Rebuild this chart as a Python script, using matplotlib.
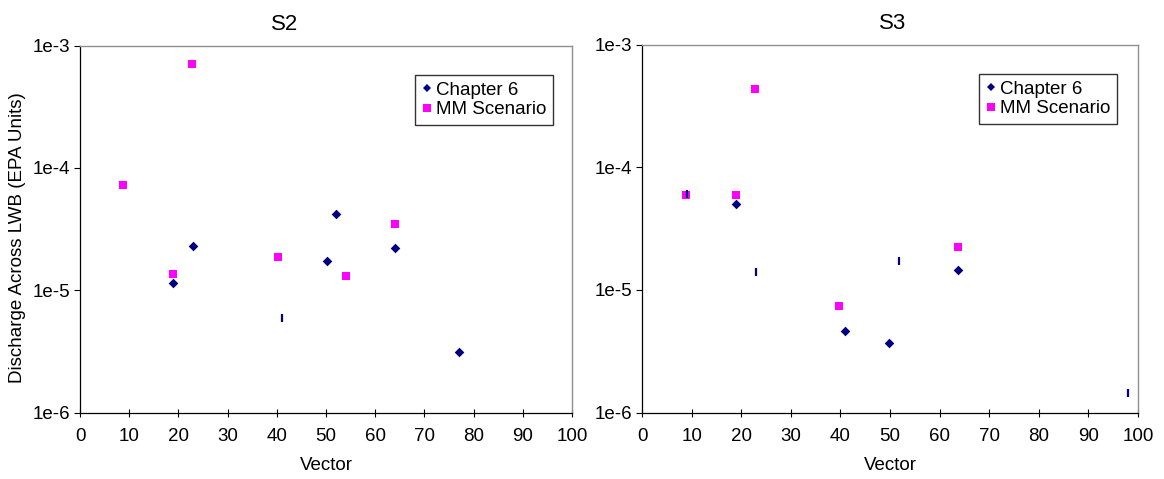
import matplotlib
matplotlib.use("Agg")
import matplotlib.pyplot as plt
from matplotlib.lines import Line2D

plt.rcParams['font.family'] = ['Liberation Sans', 'DejaVu Sans']

# ---- data ----
titles = ["S2", "S3"]

s2_ch6_x = [19.0, 23.0, 50.2, 52.0, 64.0, 77.1]
s2_ch6_y = [1.15e-5, 2.31e-5, 1.75e-5, 4.23e-5, 2.22e-5, 3.13e-6]
s2_mm_x = [8.7, 18.9, 22.8, 40.2, 54.0, 64.0]
s2_mm_y = [7.2e-5, 1.35e-5, 7.1e-4, 1.88e-5, 1.30e-5, 3.5e-5]
s2_tick_x = [41.1]
s2_tick_y = [5.97e-6]

s3_ch6_x = [18.9, 40.9, 49.8, 63.8]
s3_ch6_y = [5.03e-5, 4.63e-6, 3.70e-6, 1.45e-5]
s3_mm_x = [8.9, 18.9, 22.8, 39.7, 63.8]
s3_mm_y = [5.91e-5, 5.9e-5, 4.36e-4, 7.41e-6, 2.25e-5]
s3_tick_x = [9.0, 22.9, 51.8, 97.9]
s3_tick_y = [6.1e-5, 1.40e-5, 1.73e-5, 1.46e-6]

xticks = [0, 10, 20, 30, 40, 50, 60, 70, 80, 90, 100]
yticks = [1e-6, 1e-5, 1e-4, 1e-3]
yticklabels = ["1e-6", "1e-5", "1e-4", "1e-3"]

series_labels = ["Chapter 6", "MM Scenario"]
navy = "#000080"
magenta = "#FF00FF"

W, H = 1164, 479
fig = plt.figure(figsize=(W / 100, H / 100), dpi=100)

def box(l, r, t, b):
    return [l / W, 1 - b / H, (r - l) / W, (b - t) / H]

ax1 = fig.add_axes(box(80, 572, 45.5, 412.7))
ax2 = fig.add_axes(box(642, 1138, 44.5, 412.7))

panels = [
    (ax1, s2_ch6_x, s2_ch6_y, s2_mm_x, s2_mm_y, s2_tick_x, s2_tick_y, 0.961, (284.5 - 80) / 492),
    (ax2, s3_ch6_x, s3_ch6_y, s3_mm_x, s3_mm_y, s3_tick_x, s3_tick_y, 0.957, 0.505),
]

fs = 13.5
for i, (ax, cx, cy, mx, my, tx, ty, legx, titx) in enumerate(panels):
    ax.scatter(mx, my, marker='s', s=40, color=magenta, linewidths=0, zorder=3)
    ax.scatter(cx, cy, marker='D', s=24, color=navy, linewidths=0, zorder=4)
    ax.plot(tx, ty, linestyle='none', marker='|', markersize=6, markeredgewidth=1.6,
            color=navy, zorder=5)
    ax.set_yscale('log')
    ax.set_xlim(0, 100)
    ax.set_ylim(1e-6, 1e-3)
    ax.set_xticks(xticks)
    ax.set_xticklabels([str(v) for v in xticks], fontsize=fs)
    ax.set_yticks(yticks)
    ax.set_yticklabels(yticklabels, fontsize=fs)
    ax.yaxis.set_minor_locator(matplotlib.ticker.NullLocator())
    ax.tick_params(axis='x', direction='inout', length=6, width=0.8, pad=8)
    ax.tick_params(axis='y', direction='out', length=4, width=0.8, pad=3)
    for s in ['left', 'bottom']:
        ax.spines[s].set_color('black')
        ax.spines[s].set_linewidth(0.9)
    for s in ['top', 'right']:
        ax.spines[s].set_color('#909090')
        ax.spines[s].set_linewidth(1.0)
    ax.set_xlabel("Vector", fontsize=fs, labelpad=9)
    ax.set_title(titles[i], fontsize=16, x=titx, y=1.0, pad=11)
    handles = [
        Line2D([], [], linestyle='none', marker='D', markersize=4.5, markeredgewidth=0, color=navy),
        Line2D([], [], linestyle='none', marker='s', markersize=6, markeredgewidth=0, color=magenta),
    ]
    leg = ax.legend(handles, series_labels, loc='upper right', bbox_to_anchor=(legx, 0.919),
                    borderaxespad=0, fontsize=fs, frameon=True, fancybox=False,
                    handlelength=0.6, handletextpad=0.15, labelspacing=0.12,
                    borderpad=0.35, markerscale=1.0)
    leg.get_frame().set_edgecolor('black')
    leg.get_frame().set_linewidth(1.0)

fig.text(18 / W, 1 - 238 / H, "Discharge Across LWB (EPA Units)", rotation=90,
         fontsize=fs, ha='center', va='center')

fig.savefig("out.png", dpi=100)
